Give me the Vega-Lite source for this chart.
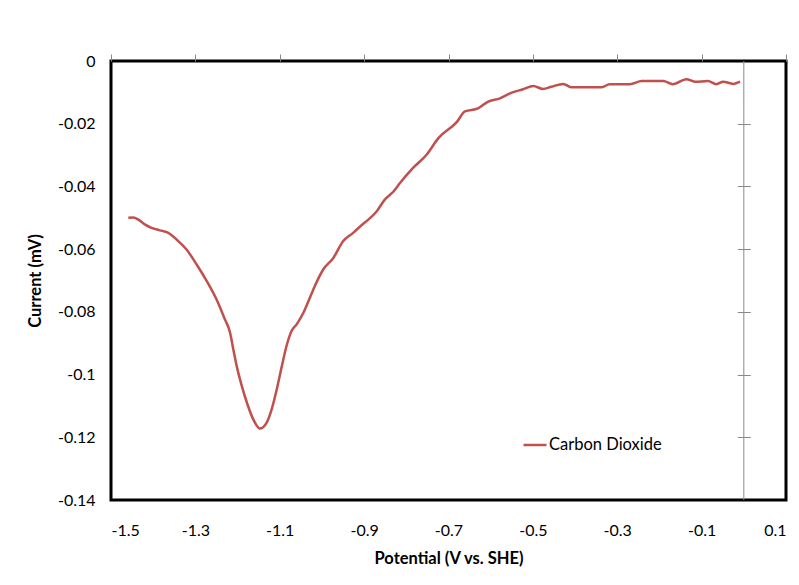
{
  "$schema": "https://vega.github.io/schema/vega-lite/v6.json",
  "width": 675,
  "height": 439,
  "autosize": {"type": "none"},
  "padding": {"left": 111, "top": 61, "right": 13, "bottom": 85},
  "background": "white",
  "config": {
    "view": {"stroke": "black", "strokeWidth": 3},
    "font": "Lato",
    "axis": {"grid": false, "labelFont": "Lato", "titleFont": "Lato", "labelColor": "black", "titleColor": "black"}
  },
  "resolve": {"axis": {"x": "independent", "y": "independent"}},
  "layer": [
    {
      "data": {
        "values": [
          {"potential": -1.459, "current": -0.0500, "series": "Carbon Dioxide"},
          {"potential": -1.447, "current": -0.0499, "series": "Carbon Dioxide"},
          {"potential": -1.435, "current": -0.0506, "series": "Carbon Dioxide"},
          {"potential": -1.419, "current": -0.0522, "series": "Carbon Dioxide"},
          {"potential": -1.404, "current": -0.0532, "series": "Carbon Dioxide"},
          {"potential": -1.384, "current": -0.0540, "series": "Carbon Dioxide"},
          {"potential": -1.364, "current": -0.0548, "series": "Carbon Dioxide"},
          {"potential": -1.344, "current": -0.0570, "series": "Carbon Dioxide"},
          {"potential": -1.321, "current": -0.0601, "series": "Carbon Dioxide"},
          {"potential": -1.297, "current": -0.0649, "series": "Carbon Dioxide"},
          {"potential": -1.273, "current": -0.0702, "series": "Carbon Dioxide"},
          {"potential": -1.250, "current": -0.0760, "series": "Carbon Dioxide"},
          {"potential": -1.230, "current": -0.0824, "series": "Carbon Dioxide"},
          {"potential": -1.218, "current": -0.0865, "series": "Carbon Dioxide"},
          {"potential": -1.210, "current": -0.0920, "series": "Carbon Dioxide"},
          {"potential": -1.202, "current": -0.0973, "series": "Carbon Dioxide"},
          {"potential": -1.190, "current": -0.1036, "series": "Carbon Dioxide"},
          {"potential": -1.178, "current": -0.1089, "series": "Carbon Dioxide"},
          {"potential": -1.163, "current": -0.1142, "series": "Carbon Dioxide"},
          {"potential": -1.147, "current": -0.1172, "series": "Carbon Dioxide"},
          {"potential": -1.131, "current": -0.1153, "series": "Carbon Dioxide"},
          {"potential": -1.119, "current": -0.1110, "series": "Carbon Dioxide"},
          {"potential": -1.107, "current": -0.1047, "series": "Carbon Dioxide"},
          {"potential": -1.095, "current": -0.0973, "series": "Carbon Dioxide"},
          {"potential": -1.084, "current": -0.0909, "series": "Carbon Dioxide"},
          {"potential": -1.072, "current": -0.0861, "series": "Carbon Dioxide"},
          {"potential": -1.060, "current": -0.0840, "series": "Carbon Dioxide"},
          {"potential": -1.044, "current": -0.0803, "series": "Carbon Dioxide"},
          {"potential": -1.032, "current": -0.0766, "series": "Carbon Dioxide"},
          {"potential": -1.017, "current": -0.0718, "series": "Carbon Dioxide"},
          {"potential": -0.997, "current": -0.0665, "series": "Carbon Dioxide"},
          {"potential": -0.973, "current": -0.0628, "series": "Carbon Dioxide"},
          {"potential": -0.950, "current": -0.0575, "series": "Carbon Dioxide"},
          {"potential": -0.926, "current": -0.0548, "series": "Carbon Dioxide"},
          {"potential": -0.902, "current": -0.0519, "series": "Carbon Dioxide"},
          {"potential": -0.890, "current": -0.0506, "series": "Carbon Dioxide"},
          {"potential": -0.870, "current": -0.0479, "series": "Carbon Dioxide"},
          {"potential": -0.851, "current": -0.0442, "series": "Carbon Dioxide"},
          {"potential": -0.831, "current": -0.0417, "series": "Carbon Dioxide"},
          {"potential": -0.815, "current": -0.0389, "series": "Carbon Dioxide"},
          {"potential": -0.784, "current": -0.0341, "series": "Carbon Dioxide"},
          {"potential": -0.752, "current": -0.0299, "series": "Carbon Dioxide"},
          {"potential": -0.724, "current": -0.0246, "series": "Carbon Dioxide"},
          {"potential": -0.680, "current": -0.0194, "series": "Carbon Dioxide"},
          {"potential": -0.661, "current": -0.0161, "series": "Carbon Dioxide"},
          {"potential": -0.630, "current": -0.0151, "series": "Carbon Dioxide"},
          {"potential": -0.607, "current": -0.0130, "series": "Carbon Dioxide"},
          {"potential": -0.578, "current": -0.0119, "series": "Carbon Dioxide"},
          {"potential": -0.550, "current": -0.0101, "series": "Carbon Dioxide"},
          {"potential": -0.523, "current": -0.0090, "series": "Carbon Dioxide"},
          {"potential": -0.499, "current": -0.0080, "series": "Carbon Dioxide"},
          {"potential": -0.476, "current": -0.0089, "series": "Carbon Dioxide"},
          {"potential": -0.456, "current": -0.0082, "series": "Carbon Dioxide"},
          {"potential": -0.428, "current": -0.0073, "series": "Carbon Dioxide"},
          {"potential": -0.408, "current": -0.0084, "series": "Carbon Dioxide"},
          {"potential": -0.373, "current": -0.0084, "series": "Carbon Dioxide"},
          {"potential": -0.337, "current": -0.0084, "series": "Carbon Dioxide"},
          {"potential": -0.318, "current": -0.0074, "series": "Carbon Dioxide"},
          {"potential": -0.270, "current": -0.0074, "series": "Carbon Dioxide"},
          {"potential": -0.242, "current": -0.0064, "series": "Carbon Dioxide"},
          {"potential": -0.191, "current": -0.0064, "series": "Carbon Dioxide"},
          {"potential": -0.168, "current": -0.0074, "series": "Carbon Dioxide"},
          {"potential": -0.136, "current": -0.0058, "series": "Carbon Dioxide"},
          {"potential": -0.116, "current": -0.0066, "series": "Carbon Dioxide"},
          {"potential": -0.085, "current": -0.0064, "series": "Carbon Dioxide"},
          {"potential": -0.065, "current": -0.0074, "series": "Carbon Dioxide"},
          {"potential": -0.049, "current": -0.0066, "series": "Carbon Dioxide"},
          {"potential": -0.025, "current": -0.0073, "series": "Carbon Dioxide"},
          {"potential": -0.009, "current": -0.0066, "series": "Carbon Dioxide"}
        ]
      },
      "mark": {"type": "line", "interpolate": "monotone", "strokeWidth": 2.5},
      "encoding": {
        "x": {
          "field": "potential", "type": "quantitative",
          "scale": {"domain": [-1.5, 0.1], "nice": false, "zero": false},
          "axis": {
            "orient": "bottom", "title": "Potential (V vs. SHE)",
            "values": [-1.5, -1.3, -1.1, -0.9, -0.7, -0.5, -0.3, -0.1, 0.1],
            "labelExpr": "replace(format(datum.value, '.1f'), '\u2212', '-')",
            "domain": false, "ticks": false, "labelPadding": 22,
            "labelFontSize": 16, "titleFontSize": 16.5, "titleFontWeight": "bold", "titlePadding": 12
          }
        },
        "y": {
          "field": "current", "type": "quantitative",
          "scale": {"domain": [-0.14, 0], "nice": false, "zero": false},
          "axis": {
            "orient": "left", "title": "Current (mV)",
            "values": [-0.14, -0.12, -0.1, -0.08, -0.06, -0.04, -0.02, 0],
            "labelExpr": "datum.value == 0 ? '0' : replace(format(datum.value, '.2~f'), '\u2212', '-')",
            "domain": false, "ticks": false, "labelPadding": 16,
            "labelFontSize": 16, "titleFontSize": 16.5, "titleFontWeight": "bold", "titlePadding": 14
          }
        },
        "color": {
          "field": "series", "type": "nominal",
          "scale": {"range": ["#C0504D"]},
          "legend": {
            "orient": "none", "legendX": 411, "legendY": 371, "title": null,
            "symbolType": "stroke", "symbolSize": 529, "symbolStrokeWidth": 2.5,
            "labelFontSize": 16.5, "labelFont": "Lato", "labelColor": "black", "labelOffset": 1, "padding": 0
          }
        }
      }
    },
    {
      "data": {"values": [{}]},
      "mark": {"type": "rule", "color": "#898989", "strokeWidth": 1},
      "encoding": {
        "x": {
          "datum": 0, "type": "quantitative",
          "axis": {
            "orient": "top", "title": null, "labels": false, "domain": false,
            "values": [-1.5, -1.3, -1.1, -0.9, -0.7, -0.5, -0.3, -0.1, 0.1],
            "ticks": true, "tickSize": 7, "tickColor": "#898989", "tickWidth": 1
          }
        },
        "y": {
          "datum": -0.14, "type": "quantitative",
          "axis": {
            "orient": "right", "title": null, "labels": false, "domain": false,
            "offset": -48.7,
            "values": [-0.12, -0.1, -0.08, -0.06, -0.04, -0.02],
            "ticks": true, "tickSize": 13, "tickColor": "#898989", "tickWidth": 1
          }
        },
        "y2": {"datum": 0}
      }
    }
  ]
}
